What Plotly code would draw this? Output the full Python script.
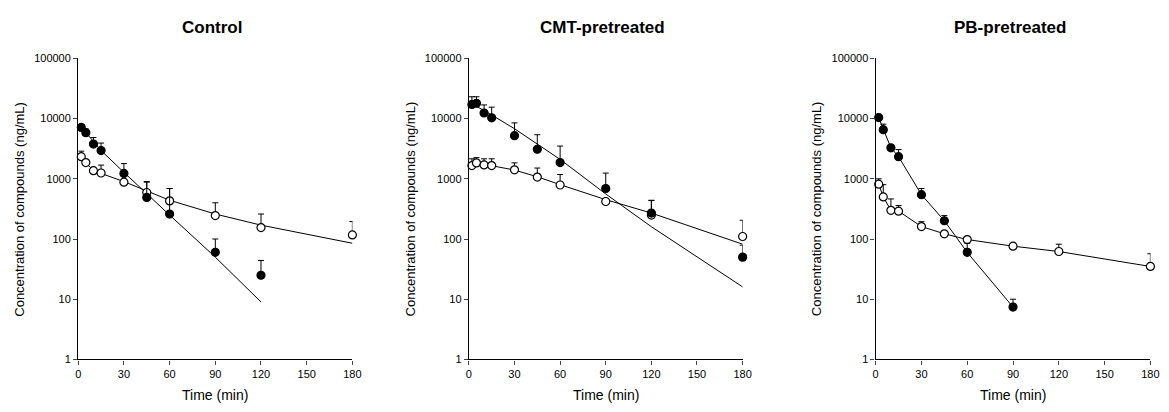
import plotly.graph_objects as go

# ---------------- Data ----------------
time_pts = [2, 5, 10, 15, 30, 45, 60, 90, 120, 180]

# Control
ctrl_filled = [7130, 5850, 3780, 2950, 1230, 490, 260, 60, 25]
ctrl_filled_err = [870, 850, 1070, 975, 560, 390, 430, 40, 19]
ctrl_open = [2330, 1860, 1365, 1250, 880, 593, 430, 245, 155, 117]
ctrl_open_err = [550, 0, 0, 440, 0, 307, 260, 155, 105, 78]
ctrl_fit_filled_t = [0, 2, 5, 10, 15, 30, 45, 60, 90, 120]
ctrl_fit_filled = [7700, 7100, 5900, 4100, 2950, 1280, 560, 250, 50, 9]
ctrl_fit_open_t = [0, 2, 5, 10, 15, 30, 45, 60, 90, 120, 180]
ctrl_fit_open = [2500, 2200, 1800, 1400, 1230, 900, 620, 440, 260, 170, 85]

# CMT-pretreated
cmt_filled = [17200, 18000, 12400, 10300, 5200, 3100, 1860, 690, 270, 50]
cmt_filled_err = [5900, 5100, 4500, 5200, 3300, 2300, 1640, 555, 170, 29]
cmt_open = [1660, 1840, 1700, 1660, 1410, 1070, 790, 420, 250, 110]
cmt_open_err = [490, 410, 450, 490, 430, 440, 390, 0, 185, 95]
cmt_fit_filled_t = [0, 2, 5, 10, 15, 30, 60, 90, 120, 180]
cmt_fit_filled = [18500, 17800, 16000, 13600, 11500, 6800, 2100, 560, 160, 16]
cmt_fit_open_t = [0, 2, 5, 10, 15, 30, 45, 60, 90, 120, 180]
cmt_fit_open = [1850, 1800, 1760, 1700, 1650, 1400, 1080, 800, 450, 270, 82]

# PB-pretreated
pb_time_filled = [2, 5, 10, 15, 30, 45, 60, 90]
pb_filled = [10400, 6560, 3270, 2330, 545, 201, 60, 7.4]
pb_filled_err = [800, 1540, 330, 730, 145, 44, 25, 2.6]
pb_open = [815, 500, 300, 290, 161, 122, 98, 76, 62, 35]
pb_open_err = [185, 300, 163, 70, 33, 0, 0, 9, 20, 22]

panel_titles = ["Control", "CMT-pretreated", "PB-pretreated"]
x_ticks = [0, 30, 60, 90, 120, 150, 180]
y_ticks = [1, 10, 100, 1000, 10000, 100000]
y_title = "Concentration of compounds (ng/mL)"
x_title = "Time (min)"

# ---------------- Layout geometry ----------------
W, H = 1169, 412
x_domains = [(76 / W, 353 / W), (470.7 / W, 747.3 / W), (881.7 / W, 1159.3 / W)]
y_domain = ((H - 364) / H, (H - 54) / H)

fig = go.Figure()

FONT = "Liberation Sans, Arial, sans-serif"


def add_panel(idx, fit_sets, filled, open_):
    xa = "x" if idx == 0 else f"x{idx + 1}"
    ya = "y" if idx == 0 else f"y{idx + 1}"
    for (ft, fv) in fit_sets:
        fig.add_trace(go.Scatter(x=ft, y=fv, mode="lines", xaxis=xa, yaxis=ya,
                                 line=dict(color="black", width=1),
                                 showlegend=False, hoverinfo="skip"))
    for (t, v, e, fillc) in [(*open_, "white"), (*filled, "black")]:
        fig.add_trace(go.Scatter(
            x=t, y=v, mode="markers", xaxis=xa, yaxis=ya,
            marker=dict(symbol="circle", size=8, color=fillc,
                        line=dict(color="black", width=1.2)),
            error_y=dict(type="data", symmetric=False, array=e,
                         arrayminus=[0] * len(e), color="black",
                         thickness=1, width=3),
            cliponaxis=False, showlegend=False))


add_panel(0,
          [(ctrl_fit_filled_t, ctrl_fit_filled), (ctrl_fit_open_t, ctrl_fit_open)],
          (time_pts[:9], ctrl_filled, ctrl_filled_err),
          (time_pts, ctrl_open, ctrl_open_err))
add_panel(1,
          [(cmt_fit_filled_t, cmt_fit_filled), (cmt_fit_open_t, cmt_fit_open)],
          (time_pts, cmt_filled, cmt_filled_err),
          (time_pts, cmt_open, cmt_open_err))
add_panel(2,
          [(pb_time_filled, pb_filled), (time_pts, pb_open)],
          (pb_time_filled, pb_filled, pb_filled_err),
          (time_pts, pb_open, pb_open_err))

layout = dict(
    width=W, height=H,
    margin=dict(l=0, r=0, t=0, b=0),
    paper_bgcolor="white", plot_bgcolor="white",
    font=dict(family=FONT, color="black", size=11),
    annotations=[],
)
for i in range(3):
    sx = "" if i == 0 else str(i + 1)
    layout["xaxis" + sx] = dict(
        domain=list(x_domains[i]), anchor="y" + sx, range=[0, 180],
        tickvals=x_ticks, ticks="outside", ticklen=4, tickwidth=1,
        showline=True, linecolor="black", linewidth=1.3, showgrid=False,
        zeroline=False, tickfont=dict(size=11, family=FONT))
    layout["yaxis" + sx] = dict(
        domain=list(y_domain), anchor="x" + sx, type="log", range=[0, 5],
        tickvals=y_ticks, ticktext=[str(v) for v in y_ticks],
        ticks="outside", ticklen=4, tickwidth=1,
        showline=True, linecolor="black", linewidth=1.3, showgrid=False,
        zeroline=False, tickfont=dict(size=11, family=FONT))
    cx = (x_domains[i][0] + x_domains[i][1]) / 2
    layout["annotations"].append(dict(
        text="<b>" + panel_titles[i] + "</b>", x=cx - 3 / W, y=1 - 22 / H,
        xref="paper", yref="paper", showarrow=False,
        font=dict(size=17, family=FONT), xanchor="center", yanchor="middle"))
    layout["annotations"].append(dict(
        text=x_title, x=cx, y=1 - 401 / H, xref="paper", yref="paper",
        showarrow=False, font=dict(size=14, family=FONT),
        xanchor="center", yanchor="middle"))
    layout["annotations"].append(dict(
        text=y_title, x=x_domains[i][0] - 59 / W, y=(y_domain[0] + y_domain[1]) / 2,
        xref="paper", yref="paper", showarrow=False, textangle=-90,
        font=dict(size=13, family=FONT), xanchor="center", yanchor="middle"))

fig.update_layout(**layout)
fig.write_html("out.html", config={"displayModeBar": False},
               post_script="document.body.style.margin='0px';"
                           "document.body.style.overflow='hidden';")
